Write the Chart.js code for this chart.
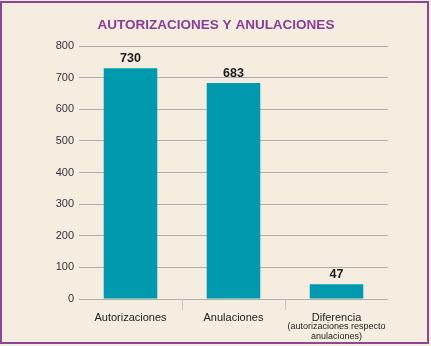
<!DOCTYPE html>
<html>
<head>
<meta charset="utf-8">
<script src="https://cdn.jsdelivr.net/npm/chart.js@4/dist/chart.umd.min.js"></script>
<style>
  html, body { margin: 0; padding: 0; background: #f5ede0; }
  #wrap { position: relative; width: 431px; height: 346px; background: #f5ede0; }
  #frame { position: absolute; left: 0; top: 1px; width: 425px; height: 339px; border: 2px solid #8c4598; pointer-events: none; }
  canvas { position: absolute; left: 0; top: 0; }
</style>
</head>
<body>
<div id="wrap">
  <canvas id="c" width="431" height="346"></canvas>
  <div id="frame"></div>
</div>
<script>
const titleText = "AUTORIZACIONES Y ANULACIONES";
const categories = ["Autorizaciones", "Anulaciones", "Diferencia"];
const categorySubLabels = [[], [], ["(autorizaciones respecto", "anulaciones)"]];
const values = [730, 683, 47];
const yTicks = [0, 100, 200, 300, 400, 500, 600, 700, 800];

const FONT = "'Liberation Sans', Arial, sans-serif";

const extras = {
  id: 'extras',
  afterDraw(chart) {
    const ctx = chart.ctx;
    const x = chart.scales.x;
    ctx.save();
    ctx.fillStyle = '#8a3c96';
    ctx.font = 'bold 13.5px ' + FONT;
    ctx.textAlign = 'center';
    ctx.textBaseline = 'middle';
    ctx.fillText(titleText, 216, 25);
    const meta = chart.getDatasetMeta(0);
    ctx.fillStyle = '#1a1a1a';
    ctx.font = 'bold 12.5px ' + FONT;
    ctx.textBaseline = 'alphabetic';
    meta.data.forEach((bar, i) => {
      ctx.fillText(String(values[i]), bar.x, bar.y - 6);
    });
    ctx.fillStyle = '#222';
    ctx.font = '9px ' + FONT;
    ctx.textBaseline = 'middle';
    categorySubLabels.forEach((lines, i) => {
      const cx = x.getPixelForValue(i);
      lines.forEach((ln, j) => {
        ctx.fillText(ln, cx, 327 + j * 10);
      });
    });
    ctx.restore();
  }
};

new Chart(document.getElementById('c'), {
  type: 'bar',
  data: {
    labels: categories,
    datasets: [{
      data: values,
      backgroundColor: '#0099ae',
      borderWidth: 0,
      categoryPercentage: 1,
      barPercentage: 0.52
    }]
  },
  options: {
    responsive: false,
    animation: false,
    layout: { padding: { left: 0, right: 43, top: 46, bottom: 0 } },
    plugins: { legend: { display: false }, tooltip: { enabled: false }, title: { display: false } },
    scales: {
      y: {
        min: 0, max: 800,
        afterBuildTicks(scale) { scale.ticks = yTicks.map(v => ({ value: v })); },
        afterFit(scale) { scale.width = 79; },
        grid: { color: '#aeaeae', lineWidth: 1, drawTicks: false },
        border: { display: false },
        ticks: { color: '#333', font: { size: 11, family: FONT }, padding: 5 }
      },
      x: {
        afterFit(scale) { scale.height = 47; },
        grid: {
          drawOnChartArea: false,
          drawTicks: true,
          tickLength: 11,
          offset: true,
          color: ctx => (ctx.type === 'tick' && ctx.index > 0) ? '#c4c4c4' : 'rgba(0,0,0,0)'
        },
        border: { display: false },
        ticks: { color: '#222', font: { size: 11, family: FONT }, padding: 1, maxRotation: 0 }
      }
    }
  },
  plugins: [extras]
});
</script>
</body>
</html>
